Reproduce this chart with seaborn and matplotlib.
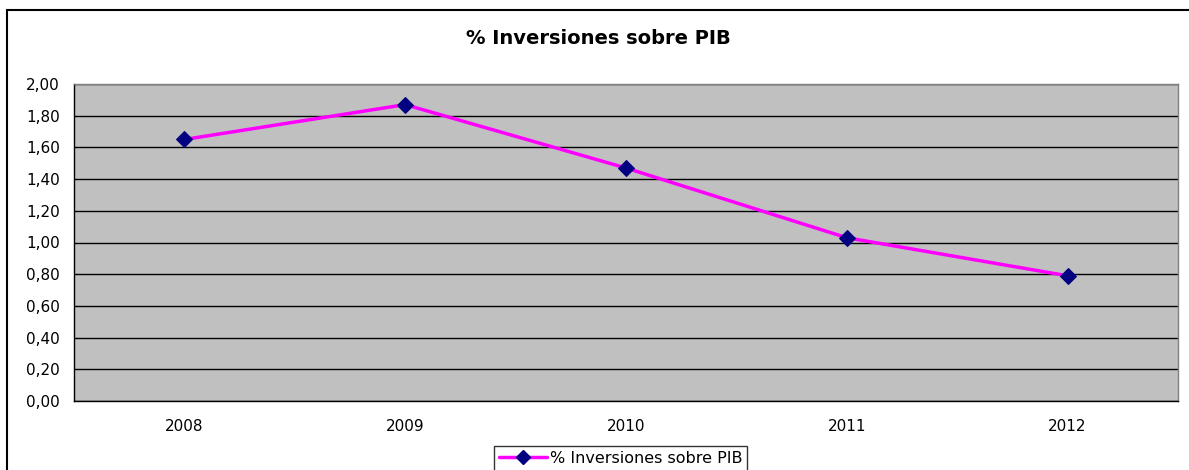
import matplotlib
matplotlib.use("Agg")
import matplotlib.pyplot as plt
from matplotlib.patches import Rectangle
from matplotlib.lines import Line2D
import seaborn as sns
import pandas as pd

years = ["2008", "2009", "2010", "2011", "2012"]
values = [1.65, 1.87, 1.47, 1.03, 0.79]
series_name = "% Inversiones sobre PIB"
title = "% Inversiones sobre PIB"
yticks = [0.0, 0.2, 0.4, 0.6, 0.8, 1.0, 1.2, 1.4, 1.6, 1.8, 2.0]

sns.set_style("white")
plt.rcParams['font.family'] = ['DejaVu Sans']
plt.rcParams['text.color'] = 'black'
plt.rcParams['xtick.color'] = 'black'
plt.rcParams['ytick.color'] = 'black'
plt.rcParams['axes.labelcolor'] = 'black'

df = pd.DataFrame({"pos": range(len(years)), "value": values, "serie": series_name})

W, H = 1189, 470
fig = plt.figure(figsize=(W / 100, H / 100), dpi=100)
fig.patch.set_facecolor("white")
# outer chart border (extends beyond right/bottom edges)
fig.patches.append(Rectangle((7 / W, -0.1), 1.2, 1 - 10 / H + 0.1, transform=fig.transFigure,
                             fill=False, edgecolor="black", linewidth=1.5, zorder=0))

ax = fig.add_axes([74 / W, 1 - 401 / H, (1178 - 74) / W, (401 - 84) / H])
ax.set_facecolor("#C0C0C0")

sns.lineplot(data=df, x="pos", y="value", hue="serie", palette=["#FF00FF"], ax=ax,
             linewidth=2.5, marker="D", markersize=8, markerfacecolor="#000080",
             markeredgecolor="#000080", legend=False, zorder=3)

ax.set_xlim(-0.5, len(years) - 0.5)
ax.set_ylim(0, 2.0)
ax.set_yticks(yticks)
ax.set_yticklabels([f"{v:.2f}".replace(".", ",") for v in yticks])
ax.set_xticks(range(len(years)))
ax.set_xticklabels(years)
ax.set_xticks([i - 0.5 for i in range(len(years) + 1)], minor=True)
ax.tick_params(axis="x", which="major", length=0, pad=13, labelsize=11, colors="black")
ax.tick_params(axis="x", which="minor", length=5, width=1, color="black", direction="out")
ax.tick_params(axis="y", length=6, width=1, color="black", direction="out", labelsize=11,
               pad=4, colors="black")
ax.grid(axis="y", color="black", linewidth=1)
ax.set_axisbelow(True)
ax.set_xlabel("")
ax.set_ylabel("")
for s in ["left", "bottom"]:
    ax.spines[s].set_color("black")
    ax.spines[s].set_linewidth(1)
for s in ["top", "right"]:
    ax.spines[s].set_color("#808080")
    ax.spines[s].set_linewidth(1)

fig.text(598 / W, 1 - 38 / H, title, ha="center", va="center", fontsize=14,
         fontweight="bold", color="black")

handle = Line2D([], [], color="#FF00FF", linewidth=2.5, marker="D", markersize=7,
                markerfacecolor="#000080", markeredgecolor="#000080")
leg = fig.legend([handle], [series_name], loc="upper left",
                 bbox_to_anchor=(494 / W, 1 - 446 / H), frameon=True, fancybox=False,
                 edgecolor="black", fontsize=11.5, borderpad=0.3, handlelength=3,
                 handletextpad=0.2, borderaxespad=0, labelcolor="black")
leg.get_frame().set_linewidth(1)

fig.savefig("out.png", dpi=100)
